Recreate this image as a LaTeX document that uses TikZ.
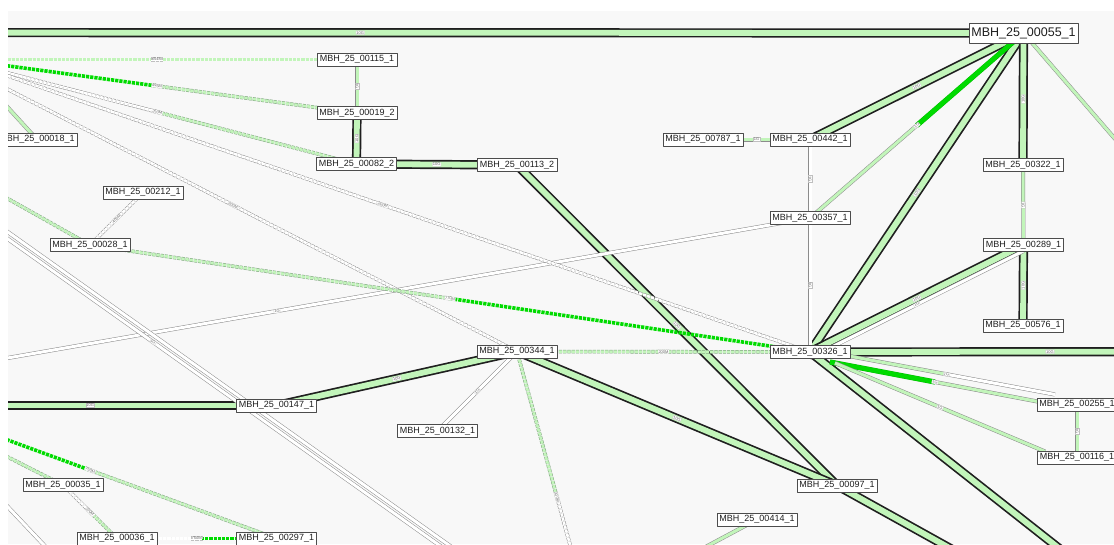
\documentclass[tikz,border=0pt]{standalone}
\usepackage{fontspec}
\setmainfont{Liberation Sans}
\usepackage{tikz}
\usetikzlibrary{calc}
\definecolor{fafafa}{rgb}{0.972,0.972,0.972}
\definecolor{ccffcc}{rgb}{0.76,0.96,0.73}
\definecolor{qqddqq}{rgb}{0.,0.86,0.}
\definecolor{qqbbqq}{rgb}{0.,0.72,0.}
\definecolor{zzzzzz}{rgb}{0.12,0.12,0.12}
\definecolor{ababab}{rgb}{0.55,0.55,0.55}
\definecolor{88aa88}{rgb}{0.5,0.64,0.5}
\pgfdeclarelayer{links}
\pgfsetlayers{links,main}
\tikzstyle{dev}=[draw=black!70,fill=white,line width=0.6pt,inner sep=1.5pt,minimum width=80pt,minimum height=13pt,font=\fontsize{9}{10}\selectfont,text=zzzzzz]
\tikzstyle{devbig}=[dev,minimum width=109pt,minimum height=20pt,font=\fontsize{12.5}{14}\selectfont]
\tikzstyle{bwlabel}=[sloped,font=\fontsize{4}{4}\selectfont,fill=white,draw=gray!50,line width=0.2pt,inner sep=0.5pt,text=black!60]
\tikzstyle{bar10}=[draw=zzzzzz,line width=1.7pt,double=ccffcc,double distance=5.8pt]
\tikzstyle{thinlt}=[draw=ababab,line width=0.5pt,double=ccffcc,double distance=3pt]
\tikzstyle{thingy}=[draw=ababab,line width=0.5pt,double=white,double distance=3pt]
\tikzstyle{thinbr}=[draw=qqbbqq,line width=0.4pt,double=qqddqq,double distance=4.4pt]
\tikzstyle{dashlt}=[draw=88aa88,line width=0.5pt,double=ccffcc,double distance=2.6pt,dash pattern=on 3.2pt off 1pt]
\tikzstyle{dashgy}=[draw=ababab,line width=0.5pt,double=white,double distance=2.6pt,dash pattern=on 3.2pt off 1pt]
\tikzstyle{dashbr}=[draw=qqddqq,line width=3.6pt,dash pattern=on 3.2pt off 1pt]
\begin{document}
\begin{tikzpicture}[line join=round,x=1pt,y=-1pt]
\useasboundingbox (0,0) rectangle (1114,544);
\begin{scope}
\clip (8,11) rectangle (1114,544);
\node[devbig] (n55) at (1023.5,33) {MBH\_25\_00055\_1};
\node[dev] (n115) at (357,59.5) {MBH\_25\_00115\_1};
\node[dev] (n19) at (357,113) {MBH\_25\_00019\_2};
\node[dev] (n82) at (356.5,164) {MBH\_25\_00082\_2};
\node[dev] (n113) at (517,165) {MBH\_25\_00113\_2};
\node[dev] (n787) at (703,139.5) {MBH\_25\_00787\_1};
\node[dev] (n442) at (810,139.5) {MBH\_25\_00442\_1};
\node[dev] (n357) at (810,218) {MBH\_25\_00357\_1};
\node[dev] (n322) at (1023,165) {MBH\_25\_00322\_1};
\node[dev] (n289) at (1023.5,245) {MBH\_25\_00289\_1};
\node[dev] (n576) at (1023,325.5) {MBH\_25\_00576\_1};
\node[dev] (n326) at (810,352) {MBH\_25\_00326\_1};
\node[dev] (n344) at (517,351.5) {MBH\_25\_00344\_1};
\node[dev] (n147) at (276.5,405.5) {MBH\_25\_00147\_1};
\node[dev] (n132) at (437.5,431) {MBH\_25\_00132\_1};
\node[dev] (n97) at (837,485.5) {MBH\_25\_00097\_1};
\node[dev] (n414) at (757,519.5) {MBH\_25\_00414\_1};
\node[dev] (n255) at (1077,404.5) {MBH\_25\_00255\_1};
\node[dev] (n116) at (1077,457.5) {MBH\_25\_00116\_1};
\node[dev] (n18) at (37,139.5) {MBH\_25\_00018\_1};
\node[dev] (n212) at (143,192.5) {MBH\_25\_00212\_1};
\node[dev] (n28) at (90,245) {MBH\_25\_00028\_1};
\node[dev] (n35) at (63,485) {MBH\_25\_00035\_1};
\node[dev] (n36) at (117,538.5) {MBH\_25\_00036\_1};
\node[dev] (n297) at (276.5,538.5) {MBH\_25\_00297\_1};
\end{scope}
% far ends of links leaving the map
\coordinate (wtop) at (-303,32.5);
\coordinate (w147) at (-96,405.5);
\coordinate (e326) at (1290,351.5);
\coordinate (se326) at (1150,620);
\coordinate (se97) at (1000,576);
\coordinate (e55) at (1250,295);
\coordinate (s414) at (640,582);
\coordinate (w18) at (-30,66);
\coordinate (w357) at (-256,404);
\coordinate (nwa) at (-200,84.5);
\coordinate (sea) at (560,624);
\coordinate (nwb) at (-247,58);
\coordinate (seb) at (553,626);
\coordinate (swa) at (-10,488);
\coordinate (swb) at (60,562);
\coordinate (w115) at (-43,59.5);
\coordinate (w19) at (-43,59);
\coordinate (w82) at (-42,60);
\coordinate (w326) at (-44,58);
\coordinate (w344) at (-51,59);
\coordinate (w28) at (-20,183);
\coordinate (s344) at (597,643);
\coordinate (w297) at (-96,402);
\coordinate (w35) at (-20,443);
\coordinate (a326) at ([shift={(28,2)}]n326.center);
\coordinate (b326) at ([shift={(20,10)}]n326.center);
\coordinate (c326) at ([shift={(25,11)}]n326.center);
\coordinate (a255) at ([shift={(-22,-10)}]n255.center);
\coordinate (b255) at ([shift={(-37,-2.5)}]n255.center);
\coordinate (c116) at ([shift={(-32,-6)}]n116.center);
\begin{pgfonlayer}{links}
\begin{scope}
\fill[white] (0,0) rectangle (1114,544);
\clip (8,11) rectangle (1114,544);
\fill[fafafa] (8,11) rectangle (1114,544);
% 10G trunks
\draw[bar10] (wtop) -- (n55.center) node[bwlabel,midway] {10G};
\draw[bar10] (n19.center) -- (n82.center) node[bwlabel,midway] {10G};
\draw[bar10] (n82.center) -- (n113.center) node[bwlabel,midway] {10G};
\draw[bar10] (n113.center) -- (n97.center) node[bwlabel,midway] {10G};
\draw[bar10] (n344.center) -- (n97.center) node[bwlabel,midway] {10G};
\draw[bar10] (n147.center) -- (n344.center) node[bwlabel,midway] {10G};
\draw[bar10] (w147) -- (n147.center) node[bwlabel,midway] {10G};
\draw[bar10] (n55.center) -- (n442.center) node[bwlabel,midway] {10G};
\draw[bar10] (n55.center) -- (n326.center) node[bwlabel,midway] {10G};
\draw[bar10] (n55.center) -- (n322.center) node[bwlabel,midway] {10G};
\draw[bar10] (n289.center) -- (n576.center) node[bwlabel,midway] {10G};
\draw[bar10] (n289.center) -- (n326.center) node[bwlabel,midway] {10G};
\draw[bar10] (n326.center) -- (e326) node[bwlabel,midway] {10G};
\draw[bar10] (n326.center) -- (se326);
\draw[bar10] (n97.center) -- (se97);
% 1G links
\draw[thinlt] (n115.center) -- (n19.center) node[bwlabel,midway] {1G};
\draw[thinlt] (n787.center) -- (n442.center) node[bwlabel,midway] {1G};
\draw[thinbr] (n55.center) -- ($(n55.center)!0.5!(n357.center)$);
\draw[thinlt] ($(n55.center)!0.5!(n357.center)$) -- (n357.center) node[bwlabel,pos=0] {1G};
\draw[thingy] (n442.center) -- (n357.center) node[bwlabel,midway] {1G};
\draw[thingy] (n357.center) -- (n326.center) node[bwlabel,midway] {1G};
\draw[thinlt] (n322.center) -- (n289.center) node[bwlabel,midway] {1G};
\draw[thingy] ([shift={(0,6)}]n289.center) -- ([shift={(0,6)}]n326.center) node[bwlabel,midway] {1G};
\draw[thinlt] (a326) -- ($(a326)!0.5!(a255)$);
\draw[thingy] ($(a326)!0.5!(a255)$) -- (a255) node[bwlabel,pos=0] {1G};
\draw[thinbr] (b326) -- ($(b326)!0.5!(b255)$);
\draw[thinlt] ($(b326)!0.5!(b255)$) -- (b255) node[bwlabel,pos=0] {1G};
\draw[thinlt] (c326) -- (c116) node[bwlabel,midway] {1G};
\draw[thinlt] (n255.center) -- (n116.center) node[bwlabel,midway] {1G};
\draw[thingy] (n344.center) -- (n132.center) node[bwlabel,midway] {1G};
\draw[thingy] (w357) -- (n357.center) node[bwlabel,midway] {1G};
\draw[thingy] (nwa) -- (sea);
\draw[thingy] (nwb) -- (seb) node[bwlabel,midway] {1G};
\draw[thingy] (swa) -- (swb);
\draw[thinlt] (n55.center) -- (e55);
\draw[thinlt] (n414.center) -- (s414);
\draw[thinlt] (n18.center) -- (w18);
% sub-1G links
\draw[dashlt] (w115) -- (n115.center) node[bwlabel,midway] {654M};
\draw[dashbr] (w19) -- ($(w19)!0.5!(n19.center)$);
\draw[dashlt] ($(w19)!0.5!(n19.center)$) -- (n19.center) node[bwlabel,pos=0] {495M};
\draw[dashgy] (w82) -- ($(w82)!0.5!(n82.center)$);
\draw[dashlt] ($(w82)!0.5!(n82.center)$) -- (n82.center) node[bwlabel,pos=0] {250M};
\draw[dashgy] (w326) -- (n326.center) node[bwlabel,midway] {200M};
\draw[dashgy] (w344) -- (n344.center) node[bwlabel,midway] {200M};
\draw[dashgy] (n212.center) -- (n28.center) node[bwlabel,midway] {400M};
\draw[dashlt] (w28) -- (n28.center);
\draw[dashlt] (n28.center) -- ($(n28.center)!0.5!(n326.center)$);
\draw[dashbr] ($(n28.center)!0.5!(n326.center)$) -- (n326.center) node[bwlabel,pos=0] {770M};
\draw[dashlt] (n344.center) -- (n326.center) node[bwlabel,midway] {200M};
\draw[dashlt] (n344.center) -- ($(n344.center)!0.5!(s344)$);
\draw[dashgy] ($(n344.center)!0.5!(s344)$) -- (s344) node[bwlabel,pos=0] {300M};
\draw[dashbr] (w297) -- ($(w297)!0.5!(n297.center)$);
\draw[dashlt] ($(w297)!0.5!(n297.center)$) -- (n297.center) node[bwlabel,pos=0] {750M};
\draw[dashlt] (w35) -- (n35.center);
\draw[dashgy] (n35.center) -- ($(n35.center)!0.5!(n36.center)$);
\draw[dashlt] ($(n35.center)!0.5!(n36.center)$) -- (n36.center) node[bwlabel,pos=0] {200M};
\draw[dashgy] (n36.center) -- ($(n36.center)!0.5!(n297.center)$);
\draw[dashbr] ($(n36.center)!0.5!(n297.center)$) -- (n297.center) node[bwlabel,pos=0] {750M};
\end{scope}
\end{pgfonlayer}
\end{tikzpicture}
\end{document}
